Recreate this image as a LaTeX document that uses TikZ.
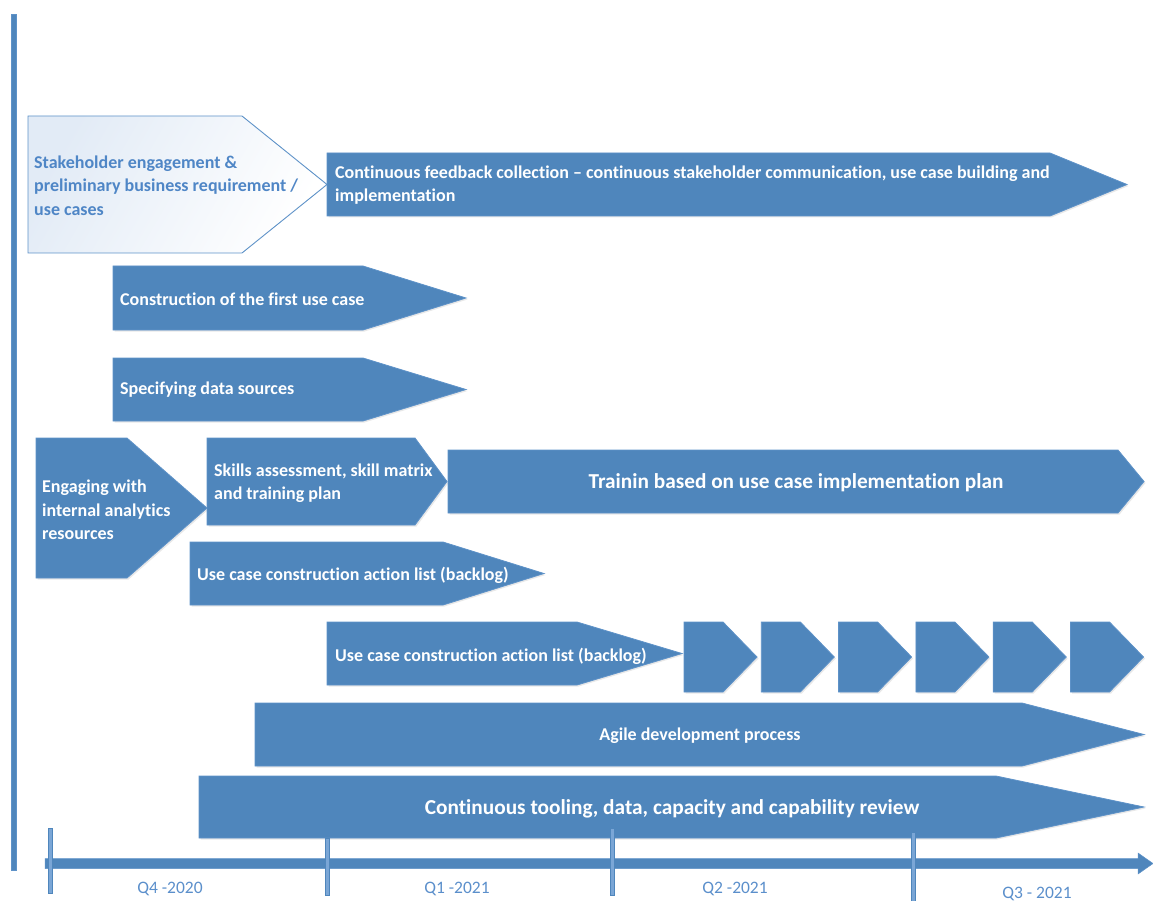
\documentclass[tikz,border=0pt]{standalone}
\usepackage{fontspec}
\setmainfont{Carlito}[Ligatures=NoCommon]
\usetikzlibrary{shadows}
\definecolor{barblue}{HTML}{4F86BC}
\definecolor{baredge}{HTML}{5E92C8}
\definecolor{txtblue}{HTML}{4F86C6}
\definecolor{qblue}{HTML}{5B8FCB}
\definecolor{tickblue}{HTML}{7AA6D6}
\definecolor{paleblue}{HTML}{E2EBF6}
\tikzset{
  bar/.style={fill=barblue, draw=baredge, line width=0.8pt, line join=miter,
    drop shadow={opacity=0.18, shadow xshift=1.5pt, shadow yshift=-1.5pt}},
  lightbar/.style={draw=baredge, line width=0.9pt, line join=miter,
    shading=axis, left color=paleblue, right color=white, shading angle=60},
  lbl/.style={text=white, font=\fontsize{18}{23.5}\selectfont\bfseries, anchor=west, align=left, inner sep=0pt},
  biglbl/.style={text=white, font=\fontsize{21.3}{24}\selectfont\bfseries, inner sep=0pt},
  midlbl/.style={text=white, font=\fontsize{18}{23.5}\selectfont\bfseries, inner sep=0pt},
  qlbl/.style={text=qblue, font=\fontsize{17.5}{20}\selectfont, inner sep=0pt},
  tickbar/.style={fill=tickblue, draw=barblue, line width=0.7pt},
}
% helper: x0, ytop, ybot, xstraight, xtip
\newcommand\tlbar[5]{%
  \path[bar] (#1,#2) -- (#4,#2) -- (#5,{(#2+#3)/2}) -- (#4,#3) -- (#1,#3) -- cycle;}
\begin{document}
\begin{tikzpicture}[x=1pt,y=-1pt]
\useasboundingbox (0,0) rectangle (1153,901);

% vertical axis
\path[fill=barblue, draw=baredge, line width=0.6pt] (11,14) rectangle (16,870);

% stakeholder (light) pentagon
\path[lightbar] (28,116) -- (242,116) -- (327,184.5) -- (242,253) -- (28,253) -- cycle;
\node[lbl, text=txtblue] (stake) at (34,185.5) {Stakeholder engagement \&\\preliminary business requirement /\\use cases};

% continuous feedback
\tlbar{327}{153}{216}{1050}{1127}
\node[lbl] (feedback) at (335,185) {Continuous feedback collection -- continuous stakeholder communication, use case building and\\implementation};

% construction of first use case
\tlbar{113}{266}{330}{363}{466}
\node[lbl] (first) at (120,299) {Construction of the first use case};

% specifying data sources
\tlbar{113}{358}{421}{363}{466}
\node[lbl] (sources) at (120,390) {Specifying data sources};

% engaging
\tlbar{36}{438}{578}{127}{207}
\node[lbl] (engage) at (42,510) {Engaging with\\internal analytics\\resources};

% skills
\tlbar{207}{438}{525}{415}{447}
\node[lbl] (skills) at (214,483) {Skills assessment, skill matrix\\and training plan};

% training
\tlbar{448}{450}{513}{1118}{1144}
\node[biglbl] (train) at (796,483) {Trainin based on use case implementation plan};

% backlog 1
\tlbar{190}{542}{605}{443}{544}
\node[lbl] (backlogA) at (197,575) {Use case construction action list (backlog)};

% backlog 2
\tlbar{327}{622}{685}{577}{682}
\node[lbl] (backlogB) at (335,656) {Use case construction action list (backlog)};

% chevrons
\foreach \i in {0,...,5}{
  \pgfmathsetmacro\xa{684+77.3*\i}
  \pgfmathsetmacro\xb{\xa+39}
  \pgfmathsetmacro\xc{\xa+73}
  \tlbar{\xa}{622}{692}{\xb}{\xc}
}

% agile
\tlbar{255}{703}{766}{1022}{1144}
\node[midlbl] (agile) at (700,736) {Agile development process};

% tooling
\tlbar{199}{776}{838}{996}{1144}
\node[biglbl] (tooling) at (672,809) {Continuous tooling, data, capacity and capability review};

% horizontal axis
\path[fill=barblue, draw=baredge, line width=0.5pt]
  (45,858.5) -- (1138,858.5) -- (1138,853) -- (1153,863.5) -- (1138,874) -- (1138,868.5) -- (45,868.5) -- cycle;

% ticks
\path[tickbar] (48,828) rectangle (52,893);
\path[tickbar] (325,838) rectangle (329,895);
\path[tickbar] (610,828) rectangle (614,895);
\path[tickbar] (911,832) rectangle (915,901);

% quarter labels
\node[qlbl] (q4) at (170,889) {Q4 -2020};
\node[qlbl] (q1) at (457,889) {Q1 -2021};
\node[qlbl] (q2) at (735,889) {Q2 -2021};
\node[qlbl] (q3) at (1037,894) {Q3 - 2021};
\end{tikzpicture}
\end{document}
